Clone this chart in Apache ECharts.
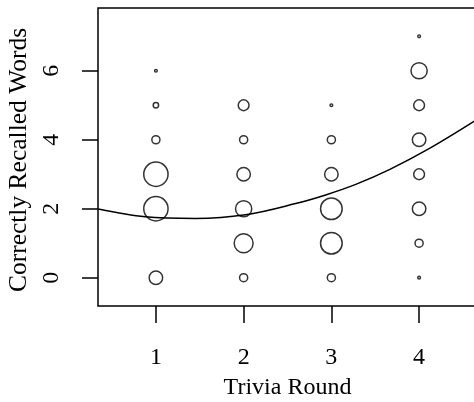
<!DOCTYPE html>
<html>
<head>
<meta charset="utf-8">
<style>
  html, body { margin: 0; padding: 0; background: #ffffff; }
  #chart { width: 474px; height: 402px; }
</style>
<script src="https://cdn.jsdelivr.net/npm/echarts@6/dist/echarts.min.js"></script>
</head>
<body>
<div id="chart"></div>
<script>
// Trivia rounds and number of words recalled (0..7)
const roundTicks = [1, 2, 3, 4];
const wordTicks = [0, 2, 4, 6];
const wordsRecalled = [0, 1, 2, 3, 4, 5, 6, 7];

// Number of participants at each recall score, one array per round
const countsRound1 = [5, 0, 9, 9, 3, 2, 1, 0];
const countsRound2 = [3, 7, 6, 5, 3, 4, 0, 0];
const countsRound3 = [3, 8, 8, 5, 3, 1, 0, 0];
const countsRound4 = [1, 3, 5, 4, 5, 4, 6, 1];

// Fitted quadratic trend, read at a handful of rounds
const trendRound = [0.344, 0.878, 1.449, 2.021, 2.592, 2.935, 3.278, 3.667, 4.124, 4.638];
const trendWords = [1.994, 1.770, 1.720, 1.825, 2.150, 2.400, 2.705, 3.140, 3.755, 4.550];

const allCounts = [countsRound1, countsRound2, countsRound3, countsRound4];
const bubbles = [];
allCounts.forEach((counts, i) => {
  counts.forEach((n, j) => {
    if (n > 0) bubbles.push([roundTicks[i], wordsRecalled[j], n]);
  });
});
const trend = trendRound.map((x, i) => [x, trendWords[i]]);

const FONT = 'Liberation Serif';
const INK = '#000000';
const LW = 1.5;

const chart = echarts.init(document.getElementById('chart'), null, { renderer: 'canvas' });
chart.setOption({
  backgroundColor: '#ffffff',
  animation: false,
  grid: {
    left: 98, top: 8, width: 379, height: 298,
    outerBoundsMode: 'none',
    containLabel: false,
    show: true, borderColor: INK, borderWidth: LW, backgroundColor: 'transparent'
  },
  xAxis: {
    type: 'value',
    min: 0.34, max: 4.66,
    name: 'Trivia Round',
    nameLocation: 'middle',
    nameGap: 70,
    nameTextStyle: { fontFamily: FONT, fontSize: 24, color: INK },
    axisLine: { show: false, onZero: false },
    splitLine: { show: false },
    axisTick: {
      show: true, inside: false, length: 17,
      customValues: roundTicks,
      lineStyle: { color: INK, width: LW }
    },
    axisLabel: {
      customValues: roundTicks,
      margin: 40,
      fontFamily: FONT, fontSize: 24, color: INK
    }
  },
  yAxis: {
    type: 'value',
    min: -0.82, max: 7.82,
    name: 'Correctly Recalled Words',
    nameLocation: 'middle',
    nameRotate: 90,
    nameGap: 59,
    nameTextStyle: { fontFamily: FONT, fontSize: 25.5, color: INK, padding: [0, 6, 0, 0] },
    axisLine: { show: false, onZero: false },
    splitLine: { show: false },
    axisTick: {
      show: true, inside: false, length: 16,
      customValues: wordTicks,
      lineStyle: { color: INK, width: LW }
    },
    axisLabel: {
      customValues: wordTicks,
      rotate: 90,
      margin: 34,
      fontFamily: FONT, fontSize: 24, color: INK
    }
  },
  series: [
    {
      type: 'scatter',
      data: bubbles,
      symbol: 'circle',
      symbolSize: (v) => v[2] * 2.7,
      itemStyle: { color: 'rgba(0,0,0,0)', borderColor: INK, borderWidth: LW },
      emphasis: { disabled: true },
      z: 3
    },
    {
      type: 'line',
      data: trend,
      smooth: 0.35,
      showSymbol: false,
      clip: true,
      lineStyle: { color: INK, width: LW },
      emphasis: { disabled: true },
      z: 4
    }
  ]
});
</script>
</body>
</html>
